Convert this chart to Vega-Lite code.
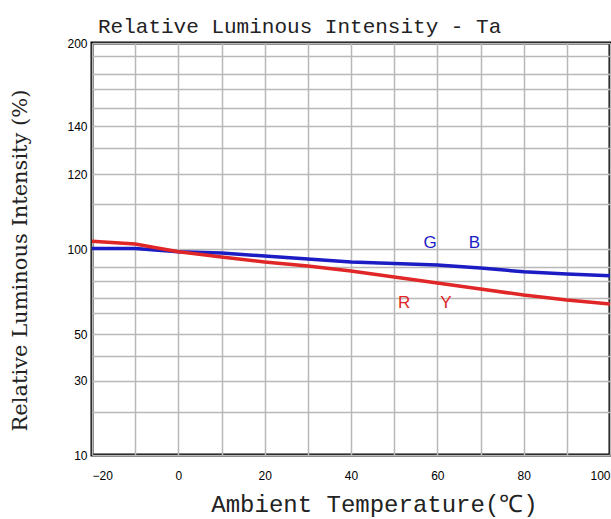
{
  "$schema": "https://vega.github.io/schema/vega-lite/v6.json",
  "width": 518,
  "height": 412,
  "autosize": {"type": "none"},
  "padding": {"left": 92, "top": 43, "right": 1, "bottom": 64},
  "background": "white",
  "title": {
    "text": "Relative Luminous Intensity - Ta",
    "font": "Liberation Mono",
    "fontSize": 21,
    "fontWeight": "normal",
    "color": "#222222",
    "anchor": "start",
    "frame": "group",
    "dx": 6,
    "dy": 25,
    "baseline": "bottom",
    "offset": 4
  },
  "config": {
    "view": {"stroke": "black", "strokeWidth": 3},
    "axis": {
      "grid": true,
      "gridColor": "#b8b8b8",
      "gridWidth": 1.5,
      "domain": false,
      "ticks": false,
      "labelColor": "black",
      "labelFont": "Liberation Sans",
      "labelFontSize": 12,
      "labelOverlap": false,
      "titleColor": "#222222",
      "titleFontWeight": "normal"
    }
  },
  "datasets": {
    "curves": [
      {"temp": -20, "value": 100.1, "series": "GB"},
      {"temp": -10, "value": 100.1, "series": "GB"},
      {"temp": 0, "value": 98.5, "series": "GB"},
      {"temp": 10, "value": 97.8, "series": "GB"},
      {"temp": 20, "value": 96.1, "series": "GB"},
      {"temp": 30, "value": 94.4, "series": "GB"},
      {"temp": 40, "value": 92.8, "series": "GB"},
      {"temp": 50, "value": 91.9, "series": "GB"},
      {"temp": 60, "value": 91.1, "series": "GB"},
      {"temp": 70, "value": 89.3, "series": "GB"},
      {"temp": 80, "value": 86.6, "series": "GB"},
      {"temp": 90, "value": 85.0, "series": "GB"},
      {"temp": 100, "value": 83.8, "series": "GB"},
      {"temp": -20, "value": 101.7, "series": "RY"},
      {"temp": -10, "value": 101.1, "series": "RY"},
      {"temp": 0, "value": 98.5, "series": "RY"},
      {"temp": 10, "value": 95.6, "series": "RY"},
      {"temp": 20, "value": 92.8, "series": "RY"},
      {"temp": 30, "value": 90.6, "series": "RY"},
      {"temp": 40, "value": 87.1, "series": "RY"},
      {"temp": 50, "value": 82.9, "series": "RY"},
      {"temp": 60, "value": 78.8, "series": "RY"},
      {"temp": 70, "value": 75.2, "series": "RY"},
      {"temp": 80, "value": 71.6, "series": "RY"},
      {"temp": 90, "value": 68.5, "series": "RY"},
      {"temp": 100, "value": 66.0, "series": "RY"}
    ],
    "labels": [
      {"temp": 58.3, "value": 101.4, "series": "GB", "label": "G"},
      {"temp": 68.6, "value": 101.4, "series": "GB", "label": "B"},
      {"temp": 52.3, "value": 66.3, "series": "RY", "label": "R"},
      {"temp": 62.0, "value": 66.3, "series": "RY", "label": "Y"}
    ]
  },
  "encoding": {
    "x": {
      "field": "temp",
      "type": "quantitative",
      "scale": {"domain": [-20, 100], "nice": false, "zero": false},
      "axis": {
        "values": [-20, -10, 0, 10, 20, 30, 40, 50, 60, 70, 80, 90, 100],
        "labelExpr": "datum.value % 20 == 0 ? datum.label : ''",
        "labelFlush": true,
        "labelPadding": 15,
        "title": "Ambient Temperature(℃)",
        "titleFont": "Liberation Mono",
        "titleFontSize": 24,
        "titleX": 282,
        "titleY": 49,
        "titleBaseline": "middle",
        "titleAlign": "center"
      }
    },
    "y": {
      "field": "value",
      "type": "quantitative",
      "scale": {
        "domain": [10, 20, 30, 40, 50, 60, 70, 80, 90, 100, 110, 120, 130, 140, 150, 160, 170, 180, 200],
        "range": [412, 368.7, 337.7, 313, 291.3, 270.3, 254.7, 238, 224, 206, 161, 131, 105, 83, 65, 46, 31, 13, 0],
        "nice": false,
        "zero": false
      },
      "axis": {
        "values": [10, 20, 30, 40, 50, 60, 70, 80, 90, 100, 110, 120, 130, 140, 150, 160, 170, 180, 200],
        "labelExpr": "indexof([10, 30, 50, 100, 120, 140, 200], datum.value) >= 0 ? datum.label : ''",
        "labelPadding": 5,
        "title": "Relative Luminous Intensity (%)",
        "titleFont": "DejaVu Serif",
        "titleFontSize": 21,
        "titleAngle": -90,
        "titleX": -72,
        "titleY": 217,
        "titleBaseline": "middle",
        "titleAlign": "center"
      }
    },
    "color": {
      "field": "series",
      "type": "nominal",
      "scale": {"domain": ["GB", "RY"], "range": ["#1c1cc4", "#e02626"]},
      "legend": null
    }
  },
  "layer": [
    {
      "data": {"name": "curves"},
      "mark": {"type": "line", "strokeWidth": 3.5, "interpolate": "linear"}
    },
    {
      "data": {"name": "labels"},
      "mark": {"type": "text", "font": "Liberation Sans", "fontSize": 17, "align": "center", "baseline": "middle"},
      "encoding": {"text": {"field": "label", "type": "nominal"}}
    }
  ]
}
